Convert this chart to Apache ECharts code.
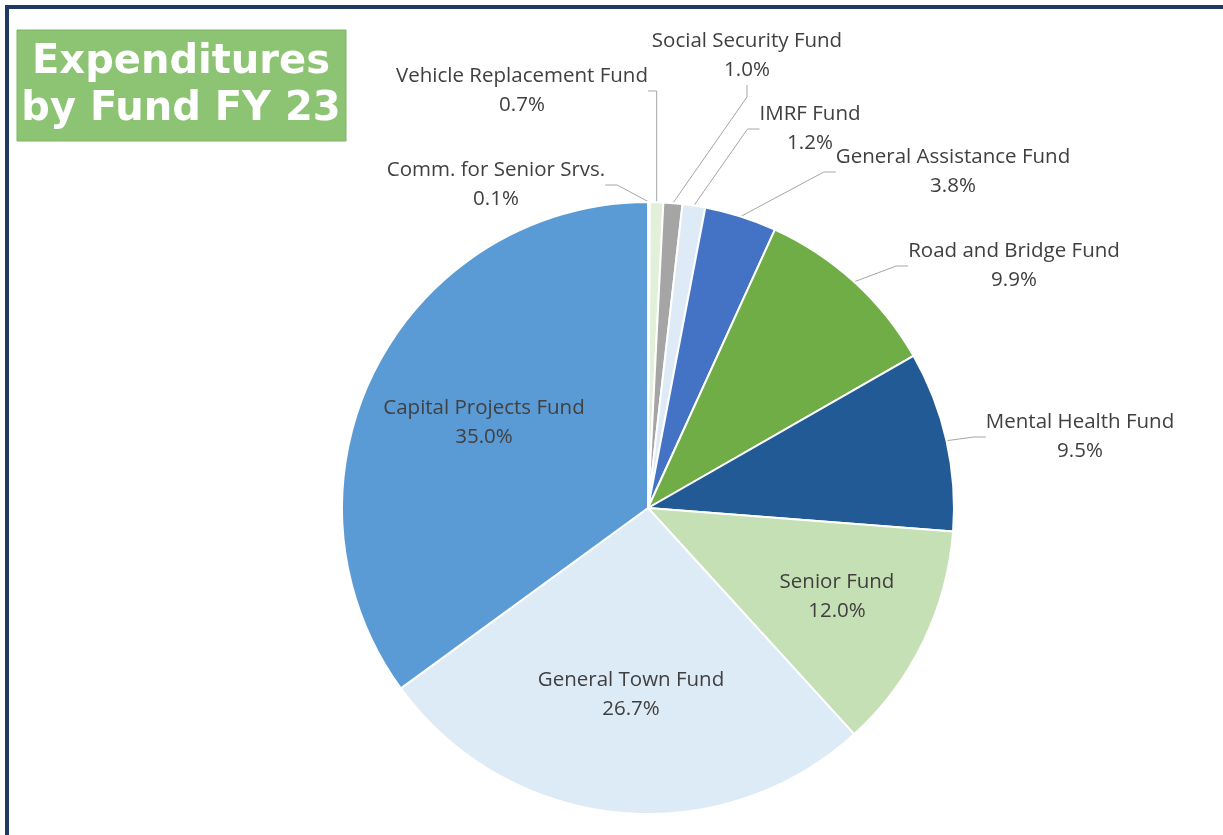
<!DOCTYPE html>
<html>
<head>
<meta charset="utf-8">
<script src="https://cdn.jsdelivr.net/npm/echarts@6/dist/echarts.min.js"></script>
<style>
  html, body { margin: 0; padding: 0; background: #ffffff; }
  #chart { width: 1223px; height: 835px; }
</style>
</head>
<body>
<div id="chart"></div>
<script>
// Fund names, clockwise from 12 o'clock
const funds = [
  'Comm. for Senior Srvs.',
  'Vehicle Replacement Fund',
  'Social Security Fund',
  'IMRF Fund',
  'General Assistance Fund',
  'Road and Bridge Fund',
  'Mental Health Fund',
  'Senior Fund',
  'General Town Fund',
  'Capital Projects Fund'
];
// Share of FY 23 expenditures, percent
const shares = [0.1, 0.7, 1.0, 1.2, 3.8, 9.9, 9.5, 12.0, 26.7, 35.0];
// Slice colours
const sliceColors = ['#f4f7f2', '#e2efd9', '#a5a5a5', '#deebf7', '#4472c4',
                     '#70ad47', '#225a96', '#c5e0b4', '#ddebf7', '#5b9bd5'];
// Funds whose label sits inside the slice
const insideLabels = ['Senior Fund', 'General Town Fund', 'Capital Projects Fund'];

// Label block centres (x, y) in the chart area
const labelSpots = [
  [496, 185], [522, 91], [747, 56], [810, 129], [953, 172],
  [1014, 266], [1080, 437], [837, 597], [631, 695], [484, 423]
];

const chart = echarts.init(document.getElementById('chart'), null, { renderer: 'canvas' });

const data = funds.map((name, i) => {
  const inside = insideLabels.includes(name);
  return {
    name: name,
    value: shares[i],
    itemStyle: { color: sliceColors[i] },
    label: { position: inside ? 'inside' : 'outside' },
    labelLine: { show: !inside }
  };
});

chart.setOption({
  backgroundColor: '#ffffff',
  animation: false,
  graphic: [
    // frame
    { type: 'rect', shape: { x: 5, y: 5, width: 1218, height: 4 }, style: { fill: '#1f3864' } },
    { type: 'rect', shape: { x: 5, y: 5, width: 4, height: 830 }, style: { fill: '#1f3864' } },
    // title badge
    { type: 'rect', shape: { x: 17, y: 30, width: 329, height: 111 },
      style: { fill: '#8dc473', stroke: '#7fb464', lineWidth: 1 } },
    { type: 'text', x: 181, y: 63,
      style: { text: 'Expenditures', fill: '#ffffff', font: 'bold 40px "DejaVu Sans"',
               textAlign: 'center', textVerticalAlign: 'middle' } },
    { type: 'text', x: 181, y: 110,
      style: { text: 'by Fund FY 23', fill: '#ffffff', font: 'bold 40px "DejaVu Sans"',
               textAlign: 'center', textVerticalAlign: 'middle' } }
  ],
  series: [{
    type: 'pie',
    center: [648, 508],
    radius: 306,
    startAngle: 90,
    clockwise: true,
    avoidLabelOverlap: false,
    data: data,
    itemStyle: { borderColor: '#ffffff', borderWidth: 2 },
    label: {
      formatter: p => p.name + '\n' + p.value.toFixed(1) + '%',
      fontFamily: 'Open Sans',
      fontSize: 20.5,
      lineHeight: 29,
      color: '#404040',
      align: 'center'
    },
    labelLine: {
      length: 20,
      length2: 12,
      lineStyle: { color: '#a6a6a6', width: 1 }
    },
    labelLayout: function (params) {
      const spot = labelSpots[params.dataIndex];
      return { x: spot[0], y: spot[1], align: 'center', verticalAlign: 'middle' };
    }
  }]
});
</script>
</body>
</html>
